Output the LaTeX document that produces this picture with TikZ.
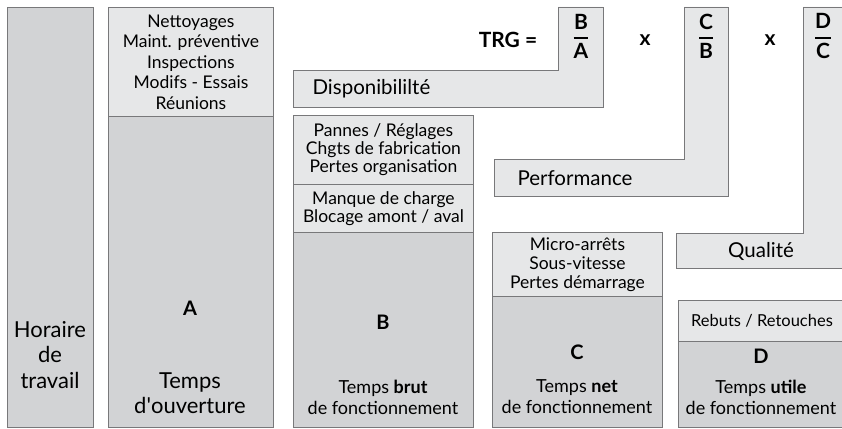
\documentclass[tikz,border=0pt]{standalone}
\usepackage{fontspec}
\usepackage{amsmath}
\setmainfont{Lato}
\definecolor{grisfonce}{RGB}{210,211,213}
\definecolor{grisclair}{RGB}{230,231,232}
\definecolor{trait}{RGB}{120,120,122}

\begin{document}
\begin{tikzpicture}[x=1pt, y=-1pt,
    fonce/.style={draw=trait, fill=grisfonce, line width=0.9pt, anchor=north west, inner sep=0pt},
    clair/.style={draw=trait, fill=grisclair, line width=0.9pt, anchor=north west, inner sep=0pt,
                  align=center, font=\fontsize{17.5}{19}\selectfont},
    equerre/.style={draw=trait, fill=grisclair, line width=0.9pt},
    titre/.style={font=\fontsize{20.5}{22}\selectfont},
    lettre/.style={font=\fontsize{20}{22}\bfseries},
    grand/.style={align=center, font=\fontsize{22}{25.5}\selectfont},
    moyen/.style={align=center, font=\fontsize{18}{21}\selectfont},
    ratio/.style={font=\fontsize{21}{23}\bfseries}]
\clip (0,0) rectangle (842,428);

% les trois equerres des taux
\draw[equerre] (293,70) -- (558,70) -- (558,7) -- (603,7) -- (603,107) -- (293,107) -- cycle;
\draw[equerre] (494,159) -- (684,159) -- (684,7) -- (728,7) -- (728,196) -- (494,196) -- cycle;
\draw[equerre] (676,233) -- (803,233) -- (803,7) -- (860,7) -- (860,268) -- (676,268) -- cycle;
\node[titre, anchor=west] (dispo) at (309,89) {Disponibililté};
\node[titre, anchor=west] (perf) at (514,178) {Performance};
\node[titre] (qual) at (761,251) {Qualité};

\node[ratio] (trg) at (508,40) {TRG =};
\node[ratio] (fBA) at (581,36) {$\genfrac{}{}{1.4pt}{0}{\mbox{B}}{\mbox{A}}$};
\node[ratio] (x1) at (645,40) {x};
\node[ratio] (fCB) at (706,36) {$\genfrac{}{}{1.4pt}{0}{\mbox{C}}{\mbox{B}}$};
\node[ratio] (x2) at (770,40) {x};
\node[ratio] (fDC) at (823,36) {$\genfrac{}{}{1.4pt}{0}{\mbox{D}}{\mbox{C}}$};

% colonnes
\node[fonce, minimum width=86, minimum height=420] (horaire) at (7,7) {};
\node[grand] (thoraire) at (50,355) {Horaire\\de\\travail};

\node[clair, minimum width=165, minimum height=109, font=\fontsize{17.5}{20.5}\selectfont] (arretsA) at (108,7)
  {Nettoyages\\Maint. préventive\\Inspections\\Modifs - Essais\\Réunions};
\node[fonce, minimum width=165, minimum height=311] (ouverture) at (108,116) {};
\node[lettre] (lA) at (190,308) {A};
\node[grand] (touv) at (190,393) {Temps\\d\textquotesingle ouverture};

\node[clair, minimum width=180, minimum height=69, font=\fontsize{17.5}{18}\selectfont] (pannesB) at (293,115)
  {Pannes / Réglages\\Chgts de fabrication\\Pertes organisation};
\node[clair, minimum width=180, minimum height=48, font=\fontsize{17.5}{17.5}\selectfont] (chargeB) at (293,184)
  {Manque de charge\\Blocage amont / aval};
\node[fonce, minimum width=180, minimum height=195] (brut) at (293,232) {};
\node[lettre] (lB) at (383,322) {B};
\node[moyen] (tbrut) at (383,397) {Temps \textbf{brut}\\de fonctionnement};

\node[clair, minimum width=170, minimum height=64] (microC) at (492,232)
  {Micro-arrêts\\Sous-vitesse\\Pertes démarrage};
\node[fonce, minimum width=170, minimum height=131] (net) at (492,296) {};
\node[lettre] (lC) at (577,352) {C};
\node[moyen] (tnet) at (577,397) {Temps \textbf{net}\\de fonctionnement};

\node[clair, minimum width=167, minimum height=41, font=\fontsize{16.5}{18}\selectfont] (rebutsD) at (678,300)
  {Rebuts / Retouches};
\node[fonce, minimum width=167, minimum height=86] (utile) at (678,341) {};
\node[lettre] (lD) at (761,356) {D};
\node[moyen] (tutile) at (761,397) {Temps \textbf{utile}\\de fonctionnement};
\end{tikzpicture}
\end{document}
